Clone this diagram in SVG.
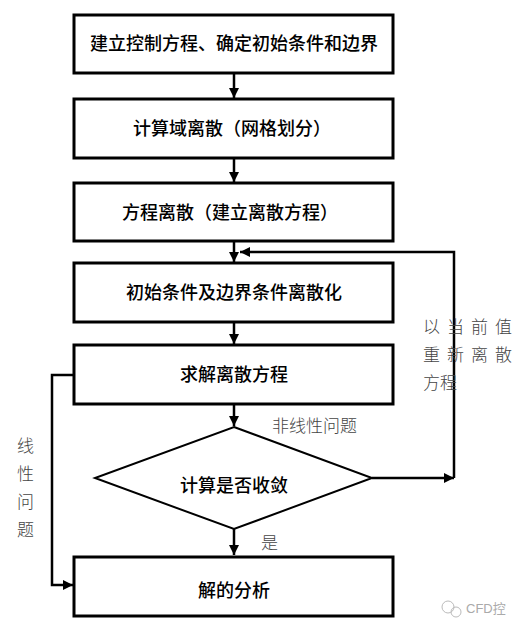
<svg xmlns="http://www.w3.org/2000/svg" width="520" height="633" viewBox="0 0 520 633">
<defs>
<marker id="ah" viewBox="0 0 10 10" refX="10" refY="5" markerWidth="10" markerHeight="10" markerUnits="userSpaceOnUse" orient="auto">
<path d="M0,0 L10,5 L0,10 z" fill="#000"/>
</marker>
<style>
.box{fill:#fff;stroke:#000;stroke-width:3}
.t{font-family:"Noto Sans CJK SC",sans-serif;font-weight:500;font-size:18px;fill:#000;text-anchor:middle}
.lbl{font-family:"Noto Sans CJK SC",sans-serif;font-weight:300;font-size:17px;fill:#444}
.c{fill:none;stroke:#000;stroke-width:2.5}
</style>
</defs>
<rect width="520" height="633" fill="#fff"/>
<g id="connectors">
<line class="c" x1="234" y1="73" x2="234" y2="98" marker-end="url(#ah)"/>
<line class="c" x1="234" y1="158" x2="234" y2="182" marker-end="url(#ah)"/>
<line class="c" x1="234" y1="241" x2="234" y2="262" marker-end="url(#ah)"/>
<line class="c" x1="234" y1="322" x2="234" y2="344" marker-end="url(#ah)"/>
<line class="c" x1="234" y1="404" x2="234" y2="426" marker-end="url(#ah)"/>
<line class="c" x1="234" y1="529" x2="234" y2="555" marker-end="url(#ah)"/>
<polyline class="c" points="372,478 454,478" marker-end="url(#ah)"/>
<polyline class="c" points="454,478 454,252 240,252" marker-end="url(#ah)"/>
<polyline class="c" points="74,375 52,375 52,585 73,585" marker-end="url(#ah)"/>
</g>
<g id="n1"><rect class="box" x="74" y="15" width="319" height="58"/><text class="t" x="234" y="50">建立控制方程、确定初始条件和边界</text></g>
<g id="n2"><rect class="box" x="74" y="99" width="319" height="59"/><text class="t" x="232" y="135">计算域离散（网格划分）</text></g>
<g id="n3"><rect class="box" x="74" y="183" width="319" height="58"/><text class="t" x="230" y="219">方程离散（建立离散方程）</text></g>
<g id="n4"><rect class="box" x="74" y="263" width="319" height="59"/><text class="t" x="234" y="299">初始条件及边界条件离散化</text></g>
<g id="n5"><rect class="box" x="74" y="345" width="319" height="59"/><text class="t" x="234" y="381">求解离散方程</text></g>
<g id="n6"><polygon points="234,427 372,478 234,529 95,478" fill="#fff" stroke="#000" stroke-width="2"/><text class="t" x="234" y="492">计算是否收敛</text></g>
<g id="n7"><rect class="box" x="74" y="557" width="319" height="59"/><text class="t" x="234" y="597">解的分析</text></g>
<g id="labels">
<text class="lbl" x="423" y="333" letter-spacing="7">以当前值</text>
<text class="lbl" x="423" y="361" letter-spacing="7">重新离散</text>
<text class="lbl" x="423" y="389" letter-spacing="0">方程</text>
<text class="lbl" x="272" y="432">非线性问题</text>
<text class="lbl" x="261" y="549">是</text>
<text class="lbl" x="17" y="452">线</text>
<text class="lbl" x="17" y="480">性</text>
<text class="lbl" x="17" y="508">问</text>
<text class="lbl" x="17" y="536">题</text>
</g>
<g id="watermark" fill="none" stroke="#bbb" stroke-width="1">
<circle cx="448" cy="607" r="6"/>
<circle cx="456" cy="612" r="5"/>
<text x="466" y="613" font-family="Liberation Sans,'Noto Sans CJK SC',sans-serif" font-size="13" fill="#aaa" stroke="none">CFD控</text>
</g>
</svg>
